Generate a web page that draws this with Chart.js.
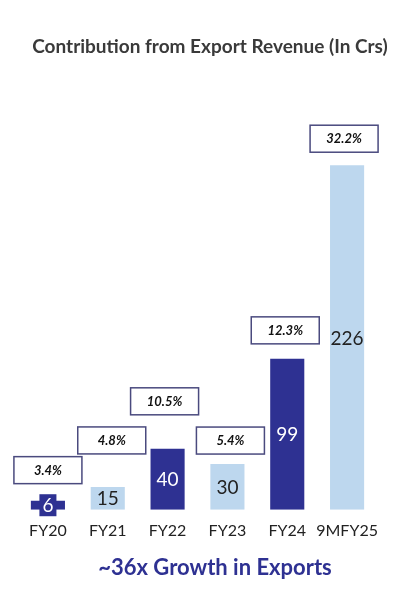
<!DOCTYPE html>
<html lang="en">
<head>
    <meta charset="UTF-8">
    <title>Contribution from Export Revenue (In Crs)</title>
    <script src="https://cdn.jsdelivr.net/npm/chart.js"></script>
    <style>
        body {
            margin: 0;
            background: #ffffff;
            font-family: 'Lato', sans-serif;
        }

        .wrap {
            position: relative;
            width: 402px;
            height: 594px;
        }

        .title {
            position: absolute;
            top: 34px;
            left: 18px;
            width: 384px;
            text-align: center;
            font-size: 19px;
            font-weight: bold;
            line-height: 24px;
            color: #3a3a3a;
        }

        .footer {
            position: absolute;
            top: 553px;
            left: 28px;
            width: 374px;
            text-align: center;
            font-size: 22px;
            font-weight: bold;
            line-height: 28px;
            color: #2e3192;
        }
    </style>
</head>
<body>

    <div class="wrap">
        <canvas id="exportChart"></canvas>
        <div class="title">Contribution from Export Revenue (In Crs)</div>
        <div class="footer">~36x Growth in Exports</div>
    </div>

    <script>
        const years = ['FY20', 'FY21', 'FY22', 'FY23', 'FY24', '9MFY25'];
        const exportRevenue = [6, 15, 40, 30, 99, 226];
        const exportShare = ['3.4%', '4.8%', '10.5%', '5.4%', '12.3%', '32.2%'];

        const DARK = '#2e3192';
        const LIGHT = '#bdd7ee';
        const barColors = years.map((_, i) => i % 2 === 0 ? DARK : LIGHT);

        // draws the value inside each bar and the share box above it
        const barLabels = {
            id: 'barLabels',
            afterDatasetsDraw(chart, args, opts) {
                const ctx = chart.ctx;
                const meta = chart.getDatasetMeta(0);
                ctx.save();
                ctx.textAlign = 'center';
                ctx.textBaseline = 'middle';
                meta.data.forEach((bar, i) => {
                    const { x, y, base } = bar.getProps(['x', 'y', 'base'], true);
                    const mid = (y + base) / 2;
                    const txt = String(exportRevenue[i]);

                    ctx.font = '19px Lato';
                    const tw = ctx.measureText(txt).width;
                    if (base - y < 22) {
                        // small bar: label sits on a patch of bar colour
                        ctx.fillStyle = barColors[i];
                        ctx.fillRect(x - tw / 2 - 3, mid - 11, tw + 6, 22);
                    }
                    ctx.fillStyle = barColors[i] === DARK ? '#ffffff' : '#222222';
                    ctx.fillText(txt, x, mid + 1);

                    const bx = x + opts.shift[i];
                    const bottom = y - opts.gap[i];
                    ctx.fillStyle = '#ffffff';
                    ctx.fillRect(bx - 34, bottom - 27, 68, 27);
                    ctx.strokeStyle = '#4a4a7e';
                    ctx.lineWidth = 1.5;
                    ctx.strokeRect(bx - 34, bottom - 27, 68, 27);
                    ctx.font = 'italic bold 13px Lato';
                    ctx.fillStyle = '#111111';
                    ctx.fillText(exportShare[i], bx, bottom - 13);
                });
                ctx.restore();
            }
        };

        const ctx = document.getElementById('exportChart').getContext('2d');

        const exportChart = new Chart(ctx, {
            type: 'bar',
            data: {
                labels: years,
                datasets: [{
                    data: exportRevenue,
                    backgroundColor: barColors,
                    borderWidth: 0,
                    barPercentage: 0.57,
                    categoryPercentage: 1
                }]
            },
            options: {
                responsive: true,
                maintainAspectRatio: false,
                animation: false,
                layout: {
                    padding: { top: 121, bottom: 43, left: 18, right: 25 }
                },
                scales: {
                    x: {
                        grid: { display: false, drawTicks: false },
                        border: { display: false },
                        ticks: {
                            padding: 11,
                            autoSkip: false,
                            maxRotation: 0,
                            minRotation: 0,
                            color: '#222222',
                            font: { family: 'Lato', size: 16 }
                        }
                    },
                    y: {
                        display: false,
                        min: 0,
                        max: 255
                    }
                },
                plugins: {
                    legend: { display: false },
                    tooltip: { enabled: false },
                    barLabels: {
                        gap: [17, 33, 34, 10, 15, 13],
                        shift: [0, 4, -3, 3, -2, -3]
                    }
                }
            },
            plugins: [barLabels]
        });
    </script>

</body>
</html>
